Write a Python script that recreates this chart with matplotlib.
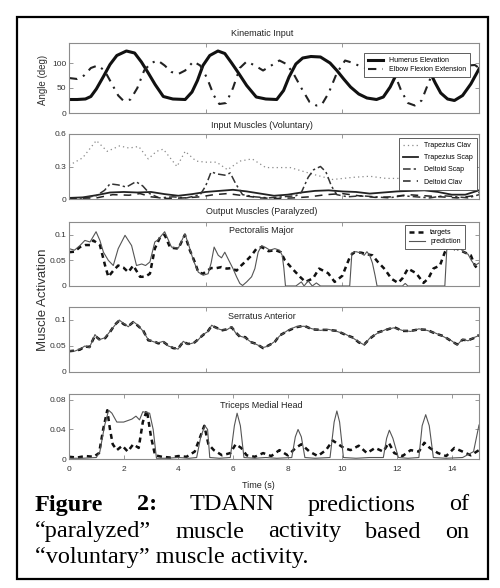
import matplotlib

matplotlib.use("Agg")
import matplotlib.pyplot as plt
from matplotlib.patches import Rectangle

plt.rcParams["font.family"] = ["Liberation Sans", "DejaVu Sans"]

W, H = 500, 588

# ---- Kinematic input (deg) ----
hum_t = [0, 0.3, 0.6, 0.8, 1.0, 1.25, 1.5, 1.75, 2.1, 2.4, 2.65, 2.9, 3.15, 3.45, 3.8, 4.25, 4.5, 4.7,
         4.9, 5.15, 5.45, 5.7, 5.95, 6.2, 6.5, 6.85, 7.2, 7.6, 7.85, 8.05, 8.3, 8.55, 8.85, 9.2, 9.55,
         9.8, 10.05, 10.3, 10.6, 10.9, 11.25, 11.5, 11.75, 12.0, 12.3, 12.6, 12.9, 13.15, 13.4, 13.6,
         13.85, 14.1, 14.4, 14.7, 15.0]
hum = [27, 27, 28, 33, 48, 72, 97, 115, 124, 120, 102, 80, 57, 33, 28, 27, 42, 65, 95, 115, 124, 119,
       100, 80, 55, 32, 28, 27, 45, 72, 98, 110, 113, 112, 100, 85, 68, 52, 38, 30, 27, 32, 52, 80, 105,
       113, 108, 88, 60, 40, 28, 25, 35, 58, 88]
elb_t = [0, 0.3, 0.55, 0.8, 1.05, 1.3, 1.55, 1.8, 2.0, 2.25, 2.5, 2.75, 3.0, 3.25, 3.5, 3.75, 4.0, 4.25,
         4.55, 4.8, 5.05, 5.3, 5.5, 5.75, 6.0, 6.25, 6.5, 6.8, 7.1, 7.4, 7.7, 7.95, 8.2, 8.5, 8.8, 9.05,
         9.25, 9.5, 9.8, 10.1, 10.4, 10.7, 11.0, 11.3, 11.6, 11.9, 12.15, 12.4, 12.65, 12.9, 13.15, 13.4,
         13.7, 14.0, 14.3, 14.6, 14.85, 15.0]
elb = [70, 68, 75, 90, 95, 85, 60, 35, 24, 27, 50, 85, 100, 105, 95, 82, 78, 85, 103, 95, 70, 35, 18,
       20, 50, 90, 103, 95, 85, 95, 105, 98, 80, 50, 22, 15, 17, 40, 80, 105, 100, 92, 88, 95, 100, 80,
       45, 20, 15, 25, 60, 92, 100, 88, 85, 95, 96, 90]

# ---- Input muscles (voluntary) ----
tc_t = [0, 0.5, 1.0, 1.4, 1.85, 2.2, 2.55, 2.9, 3.2, 3.45, 3.95, 4.25, 4.65, 5.0, 5.4, 5.8, 6.25, 6.7,
        7.2, 7.65, 8.1, 8.9, 9.65, 10.4, 11.0, 11.6, 12.3, 13.0, 13.8, 14.5, 15.0]
tc = [0.31, 0.38, 0.54, 0.44, 0.49, 0.47, 0.485, 0.37, 0.44, 0.46, 0.30, 0.44, 0.35, 0.34, 0.34, 0.27,
      0.35, 0.37, 0.29, 0.29, 0.29, 0.23, 0.18, 0.20, 0.21, 0.19, 0.19, 0.24, 0.32, 0.40, 0.42]
ts_t = [0, 0.5, 1.0, 1.5, 2.0, 2.5, 3.0, 3.5, 4.0, 4.5, 5.0, 5.5, 6.0, 6.5, 7.0, 7.5, 8.0, 8.5, 9.0,
        9.5, 10.0, 10.5, 11.0, 11.5, 12.0, 12.5, 13.0, 13.5, 14.0, 14.5, 15.0]
ts = [0.01, 0.015, 0.035, 0.06, 0.065, 0.06, 0.065, 0.045, 0.03, 0.045, 0.065, 0.075, 0.085, 0.07,
      0.05, 0.03, 0.04, 0.06, 0.075, 0.08, 0.07, 0.065, 0.05, 0.06, 0.07, 0.075, 0.08, 0.065, 0.04,
      0.04, 0.08]
ds_t = [0, 0.5, 1.0, 1.3, 1.5, 1.8, 2.1, 2.45, 2.7, 2.95, 3.3, 3.8, 4.3, 4.8, 5.0, 5.2, 5.45, 5.7, 5.9,
        6.1, 6.35, 6.8, 7.3, 7.8, 8.3, 8.5, 8.75, 8.95, 9.2, 9.4, 9.6, 9.8, 10.2, 10.7, 11.2, 11.7,
        12.2, 12.7, 13.2, 13.7, 14.2, 14.6, 15.0]
ds = [0.0, 0.01, 0.03, 0.08, 0.14, 0.13, 0.11, 0.16, 0.12, 0.05, 0.01, 0.02, 0.01, 0.04, 0.12, 0.25,
      0.23, 0.22, 0.24, 0.14, 0.04, 0.02, 0.01, 0.02, 0.03, 0.06, 0.2, 0.27, 0.3, 0.25, 0.12, 0.04,
      0.02, 0.03, 0.02, 0.01, 0.03, 0.02, 0.01, 0.03, 0.02, 0.01, 0.04]
dc_t = [0, 1.0, 1.6, 2.2, 2.6, 3.0, 3.6, 4.2, 4.8, 5.3, 5.8, 6.4, 7.0, 7.6, 8.2, 8.8, 9.4, 10.0, 10.6,
        11.2, 11.8, 12.4, 13.0, 13.6, 14.2, 14.8, 15.0]
dc = [0.005, 0.01, 0.04, 0.035, 0.05, 0.02, 0.005, 0.01, 0.02, 0.04, 0.05, 0.03, 0.01, 0.005, 0.01,
      0.02, 0.04, 0.05, 0.03, 0.015, 0.02, 0.04, 0.03, 0.02, 0.01, 0.03, 0.06]

# ---- Pectoralis Major ----
pp_t = [0, 0.2, 0.4, 0.58, 0.77, 0.99, 1.13, 1.26, 1.44, 1.62, 1.8, 2.05, 2.29, 2.47, 2.66, 2.8, 2.96,
        3.14, 3.25, 3.5, 3.75, 4.0, 4.24, 4.38, 4.55, 4.73, 4.91, 5.09, 5.2, 5.31, 5.46, 5.58, 5.7,
        5.82, 6.0, 6.13, 6.25, 6.35, 6.5, 6.68, 6.8, 6.92, 7.05, 7.2, 7.35, 7.53, 7.7, 7.8, 7.86, 7.92,
        8.3, 8.5, 8.6, 8.75, 8.9, 9.05, 9.2, 10.27, 10.35, 10.5, 10.65, 10.8, 10.9, 11.0, 11.1, 11.2,
        11.27, 12.2, 12.3, 12.4, 13.75, 13.82, 14.0, 14.1, 14.2, 14.4, 14.6, 14.72, 14.85, 15.0]
pp = [0.073, 0.07, 0.079, 0.089, 0.086, 0.106, 0.089, 0.066, 0.05, 0.04, 0.073, 0.099, 0.079, 0.04,
      0.043, 0.04, 0.047, 0.086, 0.09, 0.106, 0.076, 0.074, 0.102, 0.08, 0.05, 0.027, 0.021, 0.024,
      0.045, 0.076, 0.06, 0.055, 0.066, 0.053, 0.034, 0.018, 0.005, 0.001, 0.008, 0.018, 0.034, 0.066,
      0.079, 0.075, 0.07, 0.073, 0.07, 0.06, 0.035, 0.0, 0.0, 0.008, 0.0, 0.01, 0.0, 0.006, 0.0, 0.0,
      0.065, 0.067, 0.065, 0.06, 0.067, 0.06, 0.045, 0.02, 0.0, 0.0, 0.005, 0.0, 0.0, 0.07, 0.086,
      0.07, 0.085, 0.068, 0.062, 0.05, 0.04, 0.045]
pt_t = [0, 0.2, 0.4, 0.6, 0.77, 0.89, 1.0, 1.13, 1.32, 1.44, 1.62, 1.8, 1.99, 2.17, 2.35, 2.6, 2.78,
        2.96, 3.14, 3.33, 3.5, 3.7, 4.0, 4.24, 4.42, 4.6, 4.73, 4.9, 5.2, 5.4, 5.58, 5.77, 5.95, 6.13,
        6.3, 6.5, 6.68, 6.86, 7.05, 7.3, 7.55, 7.75, 7.9, 8.15, 8.45, 8.65, 8.93, 9.15, 9.48, 9.72,
        10.0, 10.15, 10.3, 10.45, 10.7, 10.9, 11.1, 11.3, 11.55, 11.8, 12.04, 12.2, 12.4, 12.7, 12.97,
        13.15, 13.33, 13.57, 13.75, 13.9, 14.1, 14.3, 14.5, 14.7, 14.85, 15.0]
pt = [0.066, 0.067, 0.076, 0.08, 0.08, 0.089, 0.085, 0.08, 0.04, 0.018, 0.03, 0.04, 0.036, 0.027,
      0.04, 0.018, 0.018, 0.024, 0.073, 0.095, 0.1, 0.075, 0.073, 0.1, 0.07, 0.047, 0.027, 0.024,
      0.035, 0.035, 0.037, 0.034, 0.035, 0.03, 0.04, 0.05, 0.06, 0.073, 0.076, 0.068, 0.07, 0.066,
      0.05, 0.035, 0.018, 0.008, 0.015, 0.034, 0.025, 0.008, 0.02, 0.04, 0.06, 0.066, 0.065, 0.062,
      0.06, 0.047, 0.033, 0.014, 0.006, 0.015, 0.034, 0.025, 0.006, 0.015, 0.034, 0.04, 0.066, 0.08,
      0.075, 0.07, 0.065, 0.06, 0.04, 0.03]

# ---- Serratus Anterior ----
sa_t = [0, 0.2, 0.4, 0.58, 0.75, 0.95, 1.1, 1.32, 1.5, 1.68, 1.84, 2.0, 2.17, 2.35, 2.52, 2.72, 2.9,
        3.1, 3.27, 3.45, 3.63, 3.81, 3.99, 4.18, 4.35, 4.55, 4.73, 4.9, 5.09, 5.22, 5.4, 5.58, 5.77,
        5.95, 6.1, 6.25, 6.45, 6.62, 6.86, 7.1, 7.3, 7.53, 7.7, 8.0, 8.3, 8.6, 8.9, 9.2, 9.5, 9.8, 10.1,
        10.4, 10.6, 10.8, 11.0, 11.3, 11.6, 11.9, 12.2, 12.5, 12.8, 13.1, 13.4, 13.7, 14.0, 14.2, 14.4,
        14.6, 14.8, 15.0]
sa_pred = [0.041, 0.04, 0.044, 0.05, 0.047, 0.072, 0.062, 0.066, 0.078, 0.09, 0.1, 0.093, 0.087,
           0.097, 0.09, 0.078, 0.062, 0.058, 0.056, 0.059, 0.05, 0.047, 0.044, 0.059, 0.053, 0.056,
           0.062, 0.072, 0.078, 0.09, 0.084, 0.081, 0.081, 0.087, 0.075, 0.069, 0.066, 0.059, 0.053,
           0.047, 0.05, 0.059, 0.069, 0.08, 0.087, 0.088, 0.083, 0.08, 0.082, 0.078, 0.073, 0.065,
           0.058, 0.052, 0.065, 0.075, 0.082, 0.085, 0.08, 0.078, 0.083, 0.08, 0.075, 0.068, 0.06,
           0.052, 0.063, 0.06, 0.066, 0.07]
sa_targ = [0.04, 0.041, 0.043, 0.049, 0.048, 0.07, 0.063, 0.065, 0.077, 0.091, 0.099, 0.092, 0.088,
           0.096, 0.089, 0.079, 0.061, 0.059, 0.055, 0.058, 0.051, 0.046, 0.045, 0.058, 0.054, 0.055,
           0.063, 0.071, 0.079, 0.089, 0.085, 0.08, 0.082, 0.086, 0.076, 0.068, 0.067, 0.058, 0.054,
           0.046, 0.051, 0.058, 0.07, 0.079, 0.086, 0.089, 0.082, 0.081, 0.081, 0.079, 0.072, 0.066,
           0.057, 0.053, 0.064, 0.076, 0.081, 0.086, 0.079, 0.079, 0.082, 0.081, 0.074, 0.069, 0.059,
           0.053, 0.062, 0.061, 0.065, 0.071]

# ---- Triceps Medial Head ----
tp_t = [0, 0.5, 1.0, 1.13, 1.3, 1.45, 1.57, 1.75, 2.0, 2.3, 2.45, 2.58, 2.7, 2.95, 3.08, 3.2, 3.6, 4.0,
        4.4, 4.67, 4.82, 4.97, 5.07, 5.15, 5.5, 5.9, 6.05, 6.15, 6.27, 6.4, 6.8, 7.2, 7.6, 8.15, 8.28,
        8.38, 8.5, 8.63, 9.0, 9.55, 9.7, 9.8, 9.9, 10.04, 10.5, 11.0, 11.5, 11.62, 11.72, 11.85, 12.05,
        12.4, 12.8, 12.92, 13.05, 13.18, 13.33, 13.8, 14.4, 14.8, 15.0]
tp = [0.001, 0.001, 0.002, 0.01, 0.045, 0.066, 0.062, 0.05, 0.05, 0.054, 0.058, 0.053, 0.064, 0.062,
      0.04, 0.001, 0.001, 0.002, 0.001, 0.002, 0.03, 0.045, 0.04, 0.002, 0.001, 0.002, 0.045, 0.062,
      0.045, 0.002, 0.001, 0.002, 0.001, 0.002, 0.03, 0.04, 0.03, 0.002, 0.001, 0.002, 0.05, 0.065,
      0.05, 0.002, 0.001, 0.002, 0.002, 0.028, 0.039, 0.028, 0.002, 0.001, 0.002, 0.045, 0.06, 0.045,
      0.002, 0.001, 0.002, 0.01, 0.046]
tt_t = [0, 0.3, 0.6, 0.9, 1.1, 1.25, 1.4, 1.5, 1.6, 1.75, 1.95, 2.15, 2.35, 2.55, 2.7, 2.85, 3.0, 3.15,
        3.4, 3.7, 4.0, 4.3, 4.6, 4.8, 4.95, 5.1, 5.3, 5.6, 5.9, 6.1, 6.3, 6.5, 6.8, 7.1, 7.4, 7.7, 8.0,
        8.3, 8.5, 8.8, 9.1, 9.4, 9.65, 9.85, 10.05, 10.3, 10.6, 10.9, 11.2, 11.5, 11.7, 11.9, 12.2,
        12.5, 12.8, 13.0, 13.2, 13.5, 13.8, 14.1, 14.4, 14.7, 15.0]
tt = [0.003, 0.002, 0.004, 0.003, 0.008, 0.04, 0.066, 0.04, 0.02, 0.012, 0.018, 0.01, 0.02, 0.015,
      0.05, 0.066, 0.03, 0.005, 0.003, 0.002, 0.004, 0.003, 0.01, 0.03, 0.045, 0.02, 0.012, 0.005,
      0.008, 0.02, 0.015, 0.005, 0.003, 0.008, 0.004, 0.012, 0.005, 0.015, 0.02, 0.01, 0.004, 0.012,
      0.025, 0.02, 0.015, 0.012, 0.018, 0.008, 0.015, 0.01, 0.022, 0.008, 0.004, 0.012, 0.01, 0.022,
      0.015, 0.008, 0.004, 0.015, 0.01, 0.005, 0.012]

time_ticks = [0, 2, 4, 6, 8, 10, 12, 14]

fig = plt.figure(figsize=(W / 100, H / 100), dpi=100)


def fy(py):
    return 1 - py / H


def make_ax(top, bottom, left=69, right=479):
    ax = fig.add_axes([left / W, 1 - bottom / H, (right - left) / W, (bottom - top) / H])
    ax.set_xlim(0, 15)
    for s in ax.spines.values():
        s.set_color("#8c8c8c")
        s.set_linewidth(0.8)
    ax.tick_params(direction="in", length=3, width=0.6, color="#888", labelsize=6,
                   labelcolor="#333", top=True, right=True, pad=2)
    ax.set_xticks([5, 10])
    ax.set_xticklabels([])
    return ax


def leg(ax, anchor, **kw):
    lg = ax.legend(loc="upper right", bbox_to_anchor=anchor, fontsize=5, fancybox=False,
                   framealpha=1, edgecolor="#444", borderpad=0.6, handlelength=2.2,
                   handletextpad=0.8, borderaxespad=0, **kw)
    lg.get_frame().set_linewidth(0.6)
    return lg


TGT = dict(color="#111", lw=1.8, ls=(0, (2.0, 1.6)))
PRED = dict(color="#555", lw=0.8)
XC = (69 + 0.47 * 410) / W  # centre used by the panel headings

# panel 1
ax1 = make_ax(43, 113)
ax1.plot(hum_t, hum, color="#111", lw=2.2, label="Humerus Elevation")
ax1.plot(elb_t, elb, color="#222", lw=1.5, ls=(0, (4, 3, 1, 3)), label="Elbow Flexion Extension")
ax1.set_ylim(0, 140)
ax1.set_yticks([0, 50, 100])
leg(ax1, (0.978, 0.86), labelspacing=0.3)
fig.text(43 / W, fy(80), "Angle (deg)", rotation=90, ha="center", va="center", fontsize=7,
         color="#333")
fig.text(XC, fy(34), "Kinematic Input", ha="center", va="center", fontsize=6.5, color="#222")

# panel 2
ax2 = make_ax(134, 199)
ax2.plot(tc_t, tc, color="#8a8a8a", lw=0.9, ls=(0, (1, 2.5)), label="Trapezius Clav")
ax2.plot(ts_t, ts, color="#222", lw=1.3, label="Trapezius Scap")
ax2.plot(ds_t, ds, color="#333", lw=1.1, ls=(0, (5, 2, 1.5, 2)), label="Deltoid Scap")
ax2.plot(dc_t, dc, color="#222", lw=1.1, ls=(0, (5, 4)), label="Deltoid Clav")
ax2.set_ylim(0, 0.6)
ax2.set_yticks([0, 0.3, 0.6])
ax2.set_yticklabels(["0", "0.3", "0.6"])
leg(ax2, (0.995, 0.94), labelspacing=0.75)
fig.text(XC, fy(125), "Input Muscles (Voluntary)", ha="center", va="center", fontsize=6.5,
         color="#222")

# panel 3
ax3 = make_ax(222, 286)
ax3.plot(pt_t, pt, label="targets", **TGT)
ax3.plot(pp_t, pp, label="prediction", **PRED)
ax3.set_ylim(0, 0.125)
ax3.set_yticks([0, 0.05, 0.1])
ax3.set_yticklabels(["0", "0.05", "0.1"])
leg(ax3, (0.966, 0.955), labelspacing=0.3)
ax3.text(0.47, 0.86, "Pectoralis Major", transform=ax3.transAxes, ha="center", va="center",
         fontsize=6.5, color="#222")
fig.text(XC, fy(212), "Output Muscles (Paralyzed)", ha="center", va="center", fontsize=6.5,
         color="#222")

# panel 4
ax4 = make_ax(307, 372)
ax4.plot(sa_t, sa_targ, **TGT)
ax4.plot(sa_t, sa_pred, **PRED)
ax4.set_ylim(0, 0.125)
ax4.set_yticks([0, 0.05, 0.1])
ax4.set_yticklabels(["0", "0.05", "0.1"])
ax4.text(0.47, 0.86, "Serratus Anterior", transform=ax4.transAxes, ha="center", va="center",
         fontsize=6.5, color="#222")

# panel 5
ax5 = make_ax(394, 459)
ax5.plot(tt_t, tt, **TGT)
ax5.plot(tp_t, tp, **PRED)
ax5.set_ylim(0, 0.088)
ax5.set_yticks([0, 0.04, 0.08])
ax5.set_yticklabels(["0", "0.04", "0.08"])
ax5.set_xticks(time_ticks)
ax5.set_xticklabels([str(v) for v in time_ticks])
ax5.tick_params(axis="x", pad=5)
ax5.text(0.47, 0.82, "Triceps Medial Head", transform=ax5.transAxes, ha="center", va="center",
         fontsize=6.5, color="#222")
fig.text(258 / W, fy(486), "Time (s)", ha="center", va="center", fontsize=6.5, color="#222")

fig.text(43 / W, fy(300), "Muscle Activation", rotation=90, ha="center", va="center",
         fontsize=9.5, color="#333")

# caption
CAP = dict(fontsize=17.5, family="Liberation Serif", va="center", color="black")
renderer = fig.canvas.get_renderer()


def justify(words, py, x0, x1, n_bold=0):
    objs = [fig.text(0, fy(py), w, weight="bold" if i < n_bold else "normal", **CAP)
            for i, w in enumerate(words)]
    widths = [o.get_window_extent(renderer).width for o in objs]
    gap = (x1 - x0 - sum(widths)) / (len(words) - 1)
    x = x0
    for o, w in zip(objs, widths):
        o.set_x(x / W)
        x += w + gap


justify(["Figure", "2:", "TDANN", "predictions", "of"], 505, 35, 469, n_bold=2)
justify(["\u201cparalyzed\u201d", "muscle", "activity", "based", "on"], 532, 35, 469)
fig.text(35 / W, fy(558), "\u201cvoluntary\u201d muscle activity.", **CAP)

fig.patches.append(Rectangle((17 / W, fy(579)), (488 - 17) / W, (579 - 17) / H,
                             transform=fig.transFigure, fill=False, lw=1.6, ec="black"))

fig.savefig("out.png", dpi=100)
